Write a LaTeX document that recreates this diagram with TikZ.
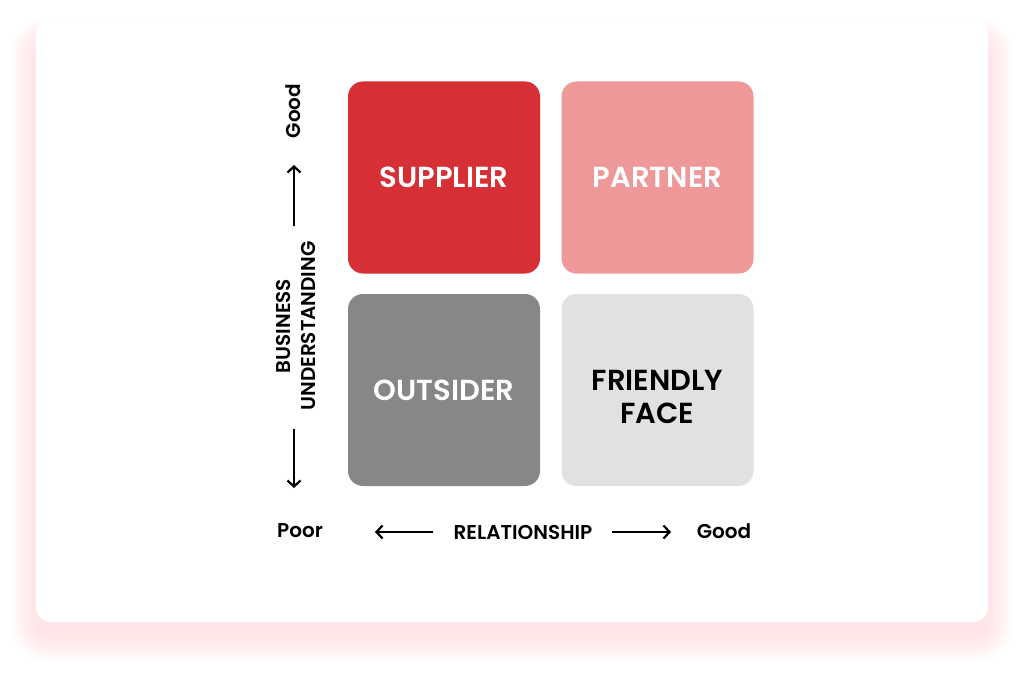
\documentclass[tikz,border=0pt]{standalone}
\usepackage{fontspec}
\setmainfont{Poppins}[BoldFont={Poppins SemiBold}]
\usetikzlibrary{arrows.meta}
\definecolor{supred}{HTML}{D63036}
\definecolor{parpink}{HTML}{EE989A}
\definecolor{outgray}{HTML}{868789}
\definecolor{frigray}{HTML}{E1E1E2}
\definecolor{shadowpink}{HTML}{FF9CA2}
\tikzset{
  quad/.style={rounded corners=15pt,minimum width=192pt,minimum height=192pt,
    inner sep=0pt,align=center,font=\fontsize{29}{33}\selectfont\bfseries},
  quadtext/.style={inner sep=0pt,align=center,font=\fontsize{29}{33}\selectfont\bfseries},
  axislabel/.style={font=\fontsize{20}{25}\selectfont\bfseries,inner sep=0pt,align=center},
  axisarrow/.style={line width=2.2pt,-{Straight Barb[length=6pt,width=13pt,line width=2.2pt]}}
}
\begin{document}
\begin{tikzpicture}[x=1pt,y=-1pt]
\useasboundingbox (0,0) rectangle (1024,676);
% card with its shadow
\foreach \i in {1,...,26}
	\fill[shadowpink,opacity=0.013,rounded corners=15pt+\i pt] (36-\i,18-\i+24) rectangle (988+\i,622+\i+14);
\fill[white,rounded corners=15pt] (36,18) rectangle (988,622);
% quadrants
\node[quad,fill=supred,text=white] (sup) at (444,177.5) {SUPPLIER};
\node[quad,fill=parpink,text=white] (par) at (657.5,177.5) {PARTNER};
\node[quad,fill=outgray,text=white] (out) at (444,390) {OUTSIDER};
\node[quad,fill=frigray] (fri) at (657.5,390) {};
\node[quadtext,text=black] (frilabel) at ([yshift=-6.5pt]fri.center) {FRIENDLY\\FACE};
% vertical axis
\node[axislabel,rotate=90] (vgood) at (293,111) {Good};
\node[axislabel,rotate=90] (bus) at (296,326) {BUSINESS\\UNDERSTANDING};
\coordinate (up1) at (294,226);
\coordinate (up2) at (294,165);
\coordinate (dn1) at (294,429);
\coordinate (dn2) at (294,488);
\draw[axisarrow] (up1) -- (up2);
\draw[axisarrow] (dn1) -- (dn2);
% horizontal axis
\node[axislabel] (poor) at (300,531) {Poor};
\node[axislabel] (rel) at (523,532) {RELATIONSHIP};
\node[axislabel] (hgood) at (724,531) {Good};
\coordinate (lt1) at (433,532);
\coordinate (lt2) at (375,532);
\coordinate (rt1) at (612,532);
\coordinate (rt2) at (671,532);
\draw[axisarrow] (lt1) -- (lt2);
\draw[axisarrow] (rt1) -- (rt2);
\end{tikzpicture}
\end{document}
